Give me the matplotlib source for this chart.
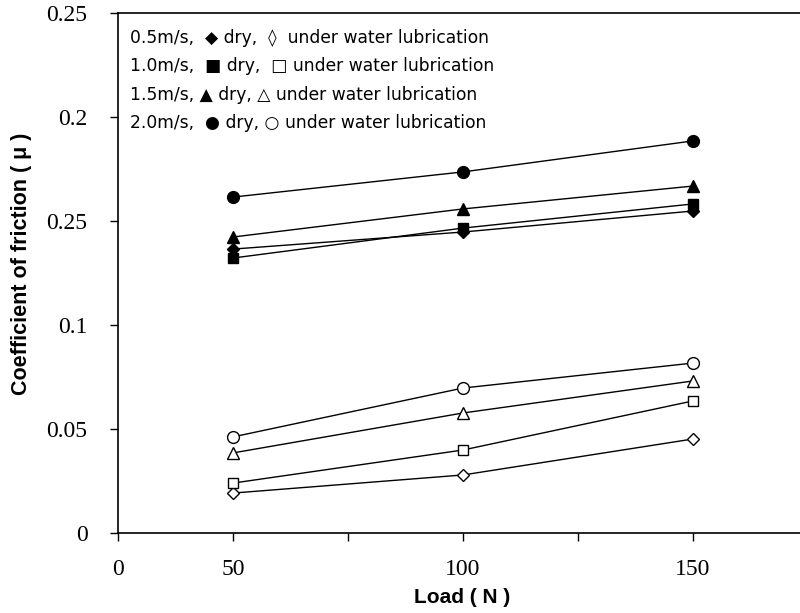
import matplotlib
matplotlib.use("Agg")
import matplotlib.pyplot as plt

# load values (N)
load = [50, 100, 150]

# coefficient of friction, dry
dry_05 = [0.1365, 0.1447, 0.1548]
dry_10 = [0.1322, 0.1466, 0.1582]
dry_15 = [0.1423, 0.1558, 0.1668]
dry_20 = [0.1615, 0.1736, 0.1885]

# coefficient of friction, under water lubrication
wet_05 = [0.0192, 0.0279, 0.0452]
wet_10 = [0.0240, 0.0399, 0.0635]
wet_15 = [0.0385, 0.0577, 0.0731]
wet_20 = [0.0462, 0.0697, 0.0817]

x_ticks = [25, 50, 75, 100, 125, 150]
x_ticklabels = ["0", "50", "", "100", "", "150"]
y_ticks = [0, 0.05, 0.1, 0.15, 0.2, 0.25]
y_ticklabels = ["0", "0.05", "0.1", "0.25", "0.2", "0.25"]

legend_lines = [
    "0.5m/s,  \u25c6 dry,  \u25ca  under water lubrication",
    "1.0m/s,  \u25a0 dry,  \u25a1 under water lubrication",
    "1.5m/s, \u25b2 dry, \u25b3 under water lubrication",
    "2.0m/s,  \u25cf dry, \u25cb under water lubrication",
]

fig = plt.figure(figsize=(8, 6.13), dpi=100)
ax = fig.add_axes([0.1475, 0.1305, 0.86, 0.8483])

kw = dict(color="black", lw=1.0)
ax.plot(load, dry_05, marker="D", ms=6, mfc="black", mec="black", **kw)
ax.plot(load, dry_10, marker="s", ms=7, mfc="black", mec="black", **kw)
ax.plot(load, dry_15, marker="^", ms=8, mfc="black", mec="black", **kw)
ax.plot(load, dry_20, marker="o", ms=8.5, mfc="black", mec="black", **kw)

ax.plot(load, wet_05, marker="D", ms=6, mfc="white", mec="black", mew=1, **kw)
ax.plot(load, wet_10, marker="s", ms=7, mfc="white", mec="black", mew=1, **kw)
ax.plot(load, wet_15, marker="^", ms=8, mfc="white", mec="black", mew=1, **kw)
ax.plot(load, wet_20, marker="o", ms=8.5, mfc="white", mec="black", mew=1, **kw)

ax.set_xlim(25, 25 + 0.86 * 800 / 4.6)
ax.set_ylim(0, 0.25)
ax.set_xticks(x_ticks)
ax.set_xticklabels(x_ticklabels, family="Liberation Serif", fontsize=17)
ax.set_yticks(y_ticks)
ax.set_yticklabels(y_ticklabels, family="Liberation Serif", fontsize=17)
ax.tick_params(direction="out", length=6, width=1, color="black")
ax.tick_params(axis="y", pad=16)
ax.tick_params(axis="x", pad=13)
ax.spines["right"].set_visible(False)
for s in ["left", "top", "bottom"]:
    ax.spines[s].set_linewidth(1.2)

for i, line in enumerate(legend_lines):
    ax.text(0.018, 0.952 - i * 0.0545, line, transform=ax.transAxes,
            family=["DejaVu Sans"], fontsize=12.3,
            va="center", ha="left")

lab = dict(family=["Liberation Sans Narrow", "Liberation Sans"],
           fontweight="bold")
ax.set_xlabel("Load ( N )", fontsize=15, **lab)
ax.set_ylabel("Coefficient of friction ( \u03bc )", fontsize=15.5, **lab)
ax.xaxis.set_label_coords(0.5, -0.105)
ax.yaxis.set_label_coords(-0.125, 0.517)

fig.savefig("out.png", dpi=100)
